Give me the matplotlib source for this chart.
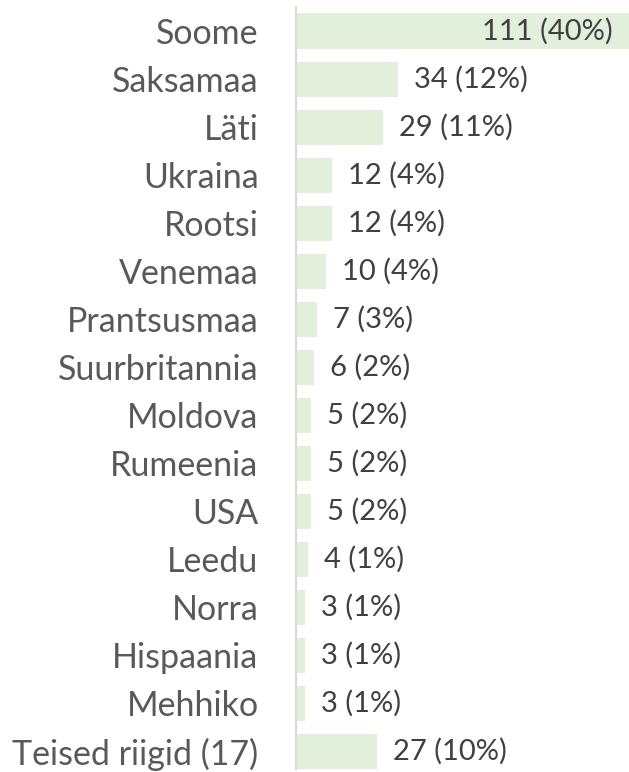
import matplotlib
matplotlib.use("Agg")
import matplotlib.pyplot as plt

countries = ['Soome', 'Saksamaa', 'Läti', 'Ukraina', 'Rootsi', 'Venemaa',
             'Prantsusmaa', 'Suurbritannia', 'Moldova', 'Rumeenia', 'USA',
             'Leedu', 'Norra', 'Hispaania', 'Mehhiko', 'Teised riigid (17)']
counts = [111, 34, 29, 12, 12, 10, 7, 6, 5, 5, 5, 4, 3, 3, 3, 27]
shares = [40, 12, 11, 4, 4, 4, 3, 2, 2, 2, 2, 1, 1, 1, 1, 10]

plt.rcParams['font.family'] = ['Lato', 'DejaVu Sans']
text_color = '#404040'
bar_color = '#E2EFDA'

fig = plt.figure(figsize=(6.29, 7.72), dpi=100)
ax = fig.add_axes([296 / 629, 3 / 772, 1 - 296 / 629, (772 - 10) / 772])

y = list(range(len(countries)))
ax.barh(y, counts, height=0.73, color=bar_color, zorder=1)
ax.set_xlim(0, 111)
ax.set_ylim(15 + 0.365, -0.5)

for i, (c, s) in enumerate(zip(counts, shares)):
    label = f'{c} ({s}%)'
    if i == 0:
        ax.text(c - 5.5, i, label, ha='right', va='center',
                fontsize=21, color=text_color)
    else:
        ax.text(c + 5.3, i, label, ha='left', va='center',
                fontsize=21, color=text_color)

ax.set_yticks(y)
ax.set_yticklabels(countries, fontsize=24.5, color='#595959')
ax.tick_params(axis='y', length=0, pad=27)
ax.set_xticks([])
for side in ['top', 'right', 'bottom']:
    ax.spines[side].set_visible(False)
ax.spines['left'].set_color('#D9D9D9')
ax.spines['left'].set_linewidth(1.5)

fig.savefig('out.png', dpi=100)
